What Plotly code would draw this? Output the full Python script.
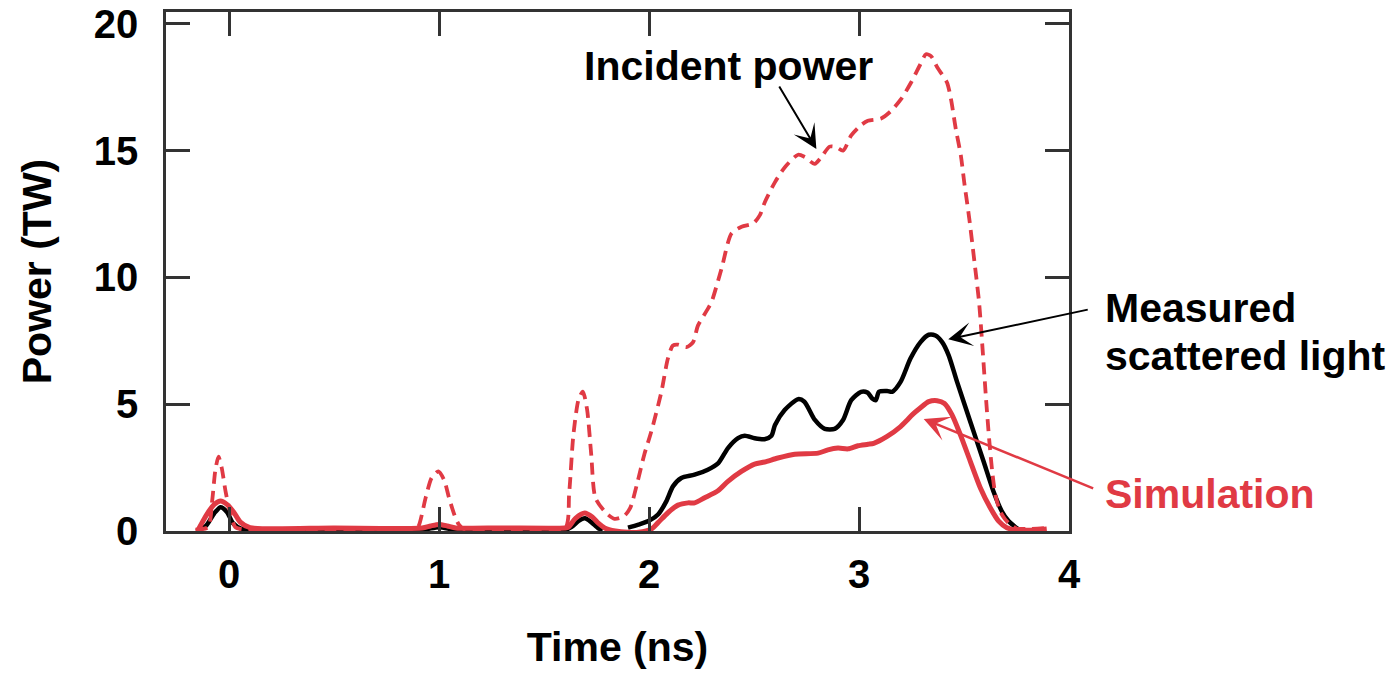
import plotly.graph_objects as go

# ---------------- data ----------------
t_incident = [-0.16, -0.1, -0.08, -0.065, -0.05, -0.035, -0.015, 0.01, 0.03, 0.06, 0.5, 0.88, 0.9, 0.937,
              0.965, 0.997, 1.025, 1.047, 1.075, 1.095, 1.12, 1.4, 1.6, 1.62, 1.64, 1.665, 1.685, 1.705,
              1.725, 1.745, 1.795, 1.836, 1.88, 1.91, 1.947, 1.978, 2.011, 2.059, 2.09, 2.114, 2.138,
              2.178, 2.21, 2.233, 2.28, 2.299, 2.346, 2.393, 2.441, 2.496, 2.528, 2.552, 2.6, 2.647,
              2.71, 2.742, 2.789, 2.821, 2.86, 2.892, 2.924, 2.963, 3.01, 3.042, 3.105, 3.153, 3.2,
              3.248, 3.288, 3.319, 3.343, 3.374, 3.419, 3.438, 3.461, 3.485, 3.501, 3.525, 3.55, 3.572,
              3.59, 3.605, 3.62, 3.635, 3.65, 3.672, 3.696, 3.72, 3.75, 3.8, 3.89]
p_incident = [0.05, 0.15, 1.2, 2.4, 2.93, 2.5, 1.5, 0.6, 0.15, 0.07, 0.07, 0.07, 0.15, 1.33,
              2.1, 2.35, 2.0, 1.33, 0.6, 0.25, 0.07, 0.07, 0.1, 1.5, 3.8, 5.2, 5.5, 4.8,
              3.0, 1.3, 0.72, 0.48, 0.58, 0.9, 1.99, 3.03, 3.92, 5.49, 6.8, 7.32, 7.35,
              7.25, 7.45, 8.1, 8.76, 9.06, 10.37, 11.74, 12.0, 12.13, 12.46, 12.98, 13.76, 14.35,
              14.84, 14.75, 14.48, 14.75, 15.16, 15.14, 15.0, 15.6, 16.01, 16.18, 16.27, 16.57, 17.03,
              17.69, 18.34, 18.8, 18.73, 18.27, 17.69, 17.03, 15.85, 14.81, 13.76, 12.33, 10.6, 9.0,
              7.0, 5.2, 3.6, 2.3, 1.4, 0.78, 0.46, 0.26, 0.1, 0.08, 0.12]

t_measured = [-0.15, -0.11, -0.07, -0.04, -0.01, 0.02, 0.06, 0.1, 0.5, 0.92, 1.0, 1.08, 1.3, 1.6,
              1.63, 1.665, 1.695, 1.725, 1.76, 1.78, None, 1.9, 1.95, 2.0, 2.043, 2.083, 2.114,
              2.154, 2.217, 2.28, 2.33, 2.376, 2.424, 2.456, 2.503, 2.55, 2.583, 2.6, 2.646, 2.71,
              2.74, 2.79, 2.837, 2.884, 2.924, 2.963, 3.01, 3.04, 3.063, 3.08, 3.095, 3.134, 3.158,
              3.198, 3.245, 3.293, 3.332, 3.364, 3.396, 3.427, 3.467, 3.53, 3.593, 3.64, 3.68,
              3.712, 3.744, 3.767]
p_measured = [0.0, 0.2, 0.7, 0.94, 0.75, 0.3, 0.08, 0.05, 0.05, 0.05, 0.15, 0.05, 0.05, 0.05,
              0.15, 0.4, 0.5, 0.35, 0.1, 0.05, None, 0.13, 0.25, 0.4, 0.65, 1.18, 1.76,
              2.09, 2.22, 2.42, 2.68, 3.27, 3.66, 3.76, 3.66, 3.62, 3.76, 4.18, 4.77, 5.2,
              5.1, 4.38, 4.03, 4.03, 4.38, 5.16, 5.49, 5.46, 5.23, 5.16, 5.49, 5.52, 5.49,
              5.88, 6.8, 7.45, 7.74, 7.71, 7.45, 6.93, 5.88, 4.31, 2.75, 1.57, 0.78,
              0.39, 0.16, 0.03]

t_simulation = [-0.15, -0.104, -0.07, -0.04, -0.01, 0.022, 0.054, 0.1, 0.5, 0.92, 0.96, 1.0, 1.04,
                1.08, 1.3, 1.6, 1.615, 1.65, 1.694, 1.73, 1.76, 1.789, 1.84, 1.9, 1.95, 2.01,
                2.043, 2.09, 2.138, 2.186, 2.217, 2.265, 2.33, 2.376, 2.44, 2.503, 2.55, 2.614,
                2.694, 2.805, 2.852, 2.9, 2.948, 2.995, 3.043, 3.07, 3.134, 3.198, 3.23, 3.253,
                3.293, 3.332, 3.372, 3.407, 3.443, 3.483, 3.53, 3.578, 3.625, 3.665, 3.704,
                3.75, 3.815, 3.894]
p_simulation = [0.0, 0.68, 1.05, 1.18, 1.05, 0.75, 0.35, 0.13, 0.12, 0.12, 0.2, 0.26, 0.2,
                0.12, 0.12, 0.12, 0.14, 0.5, 0.71, 0.55, 0.3, 0.12, 0.0, -0.05, -0.05, 0.07,
                0.33, 0.72, 1.02, 1.11, 1.11, 1.31, 1.6, 1.96, 2.35, 2.64, 2.72, 2.88,
                3.03, 3.07, 3.2, 3.27, 3.24, 3.36, 3.42, 3.46, 3.73, 4.12, 4.38, 4.58,
                4.86, 5.1, 5.14, 5.03, 4.58, 3.79, 2.75, 1.7, 0.92, 0.39, 0.13,
                0.04, 0.03, 0.08]

x_ticks = [0, 1, 2, 3, 4]
y_ticks = [0, 5, 10, 15, 20]

RED = "#E03A44"
FONT = "Liberation Sans, Arial, Helvetica, sans-serif"

fig = go.Figure()
fig.add_trace(go.Scatter(x=t_measured, y=p_measured, mode="lines", name="Measured scattered light",
                         line=dict(color="black", width=4.5, shape="spline", smoothing=0.7)))
fig.add_trace(go.Scatter(x=t_simulation, y=p_simulation, mode="lines", name="Simulation",
                         line=dict(color=RED, width=5, shape="spline", smoothing=0.7)))
fig.add_trace(go.Scatter(x=t_incident, y=p_incident, mode="lines", name="Incident power",
                         line=dict(color=RED, width=3.8, dash="12px,7px", shape="spline", smoothing=0.7)))

axis_common = dict(showline=True, linecolor="#333333", linewidth=2.5, mirror="ticks",
                   ticks="inside", ticklen=24, tickwidth=2.5, tickcolor="#333333",
                   showgrid=False, zeroline=False, automargin=False,
                   tickfont=dict(family=FONT, size=40, color="black", weight="bold"))

fig.update_xaxes(range=[-0.3, 4.0], tickvals=x_ticks, ticktext=[str(v) for v in x_ticks],
                 ticklabelstandoff=6,
                 title=dict(text="Time (ns)", font=dict(family=FONT, size=41, color="black", weight="bold"),
                            standoff=38),
                 **axis_common)
fig.update_yaxes(range=[0, 20.47], tickvals=y_ticks, ticktext=[str(v) for v in y_ticks],
                 ticklabelstandoff=17,
                 title=dict(text="Power (TW)", font=dict(family=FONT, size=41, color="black", weight="bold"),
                            standoff=30),
                 **axis_common)

ann_font = dict(family=FONT, size=41, color="black", weight="bold")
annotations = [
    dict(text="Incident power", xref="paper", yref="paper", x=0.6224, y=0.896,
         xanchor="center", yanchor="middle", showarrow=False, font=ann_font),
    dict(text="Measured", xref="paper", yref="paper", x=1.0377, y=0.4297,
         xanchor="left", yanchor="middle", showarrow=False, font=ann_font),
    dict(text="scattered light", xref="paper", yref="paper", x=1.0377, y=0.337,
         xanchor="left", yanchor="middle", showarrow=False, font=ann_font),
    dict(text="Simulation", xref="paper", yref="paper", x=1.0377, y=0.0713,
         xanchor="left", yanchor="middle", showarrow=False, font=dict(ann_font, color=RED)),
    # arrows
    dict(text="", x=2.797, y=15.07, xref="x", yref="y", ax=-38, ay=-64, showarrow=True,
         arrowhead=3, arrowsize=2, arrowwidth=2, arrowcolor="black"),
    dict(text="", x=3.425, y=7.56, xref="x", yref="y", ax=141, ay=-30, showarrow=True,
         arrowhead=3, arrowsize=2, arrowwidth=2, arrowcolor="black"),
    dict(text="", x=3.308, y=4.42, xref="x", yref="y", ax=171, ay=70, showarrow=True,
         arrowhead=3, arrowsize=1.7, arrowwidth=2.5, arrowcolor=RED),
]

fig.update_layout(width=1399, height=673, margin=dict(l=166, r=330, t=12, b=142),
                  plot_bgcolor="white", paper_bgcolor="white", showlegend=False,
                  annotations=annotations, font=dict(family=FONT))

fig.write_html("out.html")
